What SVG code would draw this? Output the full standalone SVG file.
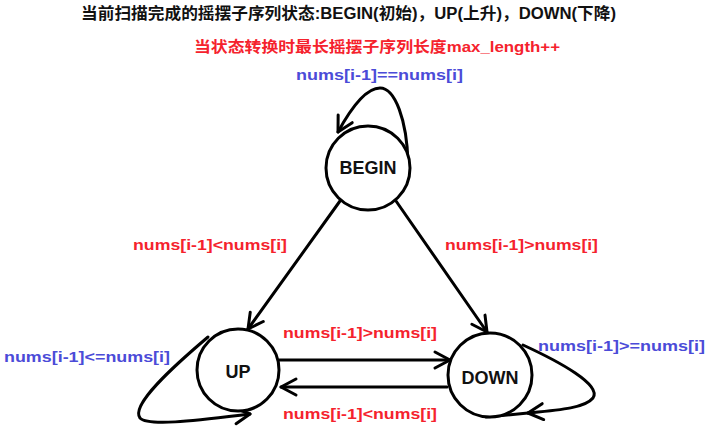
<svg xmlns="http://www.w3.org/2000/svg" width="725" height="434" viewBox="0 0 725 434">
<defs>
<marker id="arr" markerUnits="userSpaceOnUse" markerWidth="30" markerHeight="30" refX="0" refY="0" viewBox="-20 -15 30 30" orient="auto" overflow="visible">
<path d="M-15,-8 L0,0 L-15,8" fill="none" stroke="#000" stroke-width="3" stroke-linecap="round" stroke-linejoin="round"/>
</marker>
<style>
text{font-family:"Liberation Sans","Noto Sans CJK SC",sans-serif;font-weight:bold;}
.t{font-size:16px;fill:#111;}
.red{font-size:15px;fill:#f5222d;}
.blue{font-size:15px;fill:#4b4bd8;}
.node circle{fill:#fff;stroke:#000;stroke-width:3;}
.node text{font-size:18px;fill:#111;text-anchor:middle;}
.c{fill:none;stroke:#000;stroke-width:3;stroke-linecap:round;}
</style>
</defs>
<rect width="725" height="434" fill="#fff"/>
<text class="t" x="81" y="19" textLength="535" lengthAdjust="spacingAndGlyphs" font-family="Noto Sans CJK SC">当前扫描完成的摇摆子序列状态:BEGIN(初始)，UP(上升)，DOWN(下降)</text>
<text class="red" x="194" y="52" font-size="16" textLength="366" lengthAdjust="spacingAndGlyphs">当状态转换时最长摇摆子序列长度max_length++</text>
<g id="connectors">
<path class="c" d="M408,163 C407,120 395,88 380,88 C365,88 350,110 338,132" marker-end="url(#arr)"/>
<line class="c" x1="340" y1="201" x2="248" y2="329" marker-end="url(#arr)"/>
<line class="c" x1="396" y1="201" x2="487" y2="332" marker-end="url(#arr)"/>
<line class="c" x1="279" y1="360" x2="450" y2="360" marker-end="url(#arr)"/>
<line class="c" x1="447" y1="387" x2="281" y2="387" marker-end="url(#arr)"/>
<path class="c" d="M208,337 C175,365 130,405 140,418 C148,427 200,420 250,414" marker-end="url(#arr)"/>
<path class="c" d="M523,345 C560,362 602,385 593,398 C585,408 560,410 528,413" marker-end="url(#arr)"/>
<line class="c" x1="528" y1="413" x2="486" y2="417"/>
</g>
<g id="node-begin" class="node"><circle cx="368" cy="168" r="42"/><text x="368" y="174">BEGIN</text></g>
<g id="node-up" class="node"><circle cx="238" cy="370" r="41"/><text x="238" y="378">UP</text></g>
<g id="node-down" class="node"><circle cx="490" cy="375" r="42"/><text x="490" y="384">DOWN</text></g>
<g id="labels">
<text class="blue" x="296" y="80" textLength="167" lengthAdjust="spacingAndGlyphs">nums[i-1]==nums[i]</text>
<text class="red" x="133" y="250" textLength="154" lengthAdjust="spacingAndGlyphs">nums[i-1]&lt;nums[i]</text>
<text class="red" x="445" y="250" textLength="153" lengthAdjust="spacingAndGlyphs">nums[i-1]&gt;nums[i]</text>
<text class="red" x="283" y="338" textLength="154" lengthAdjust="spacingAndGlyphs">nums[i-1]&gt;nums[i]</text>
<text class="red" x="283" y="419" textLength="154" lengthAdjust="spacingAndGlyphs">nums[i-1]&lt;nums[i]</text>
<text class="blue" x="4" y="362" textLength="166" lengthAdjust="spacingAndGlyphs">nums[i-1]&lt;=nums[i]</text>
<text class="blue" x="538" y="351" textLength="167" lengthAdjust="spacingAndGlyphs">nums[i-1]&gt;=nums[i]</text>
</g>
</svg>
